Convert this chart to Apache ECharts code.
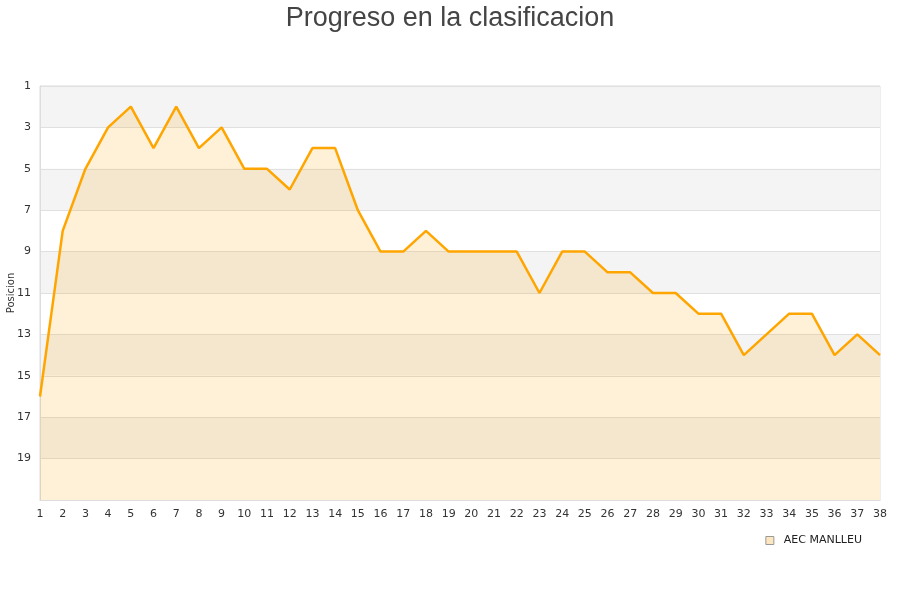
<!DOCTYPE html>
<html><head><meta charset="utf-8">
<script src="https://cdn.jsdelivr.net/npm/echarts@6/dist/echarts.min.js"></script>
<style>html,body{margin:0;padding:0;background:#fff}#c{width:900px;height:600px}</style>
</head><body><div id="c"></div>
<script>
var jornadas = [];
for (var i = 1; i <= 38; i++) jornadas.push(String(i));
var posiciones = [16,8,5,3,2,4,2,4,3,5,5,6,4,4,7,9,9,8,9,9,9,9,11,9,9,10,10,11,11,12,12,14,13,12,12,14,13,14];
var serieNombre = 'AEC MANLLEU';
var chart = echarts.init(document.getElementById('c'));
chart.setOption({
  animation: false,
  title: {text: 'Progreso en la clasificacion', left: 'center', top: 0,
    textStyle: {fontSize: 27, fontWeight: 'normal', color: '#444', fontFamily: 'Liberation Sans'}},
  grid: {left: 40, right: 20, top: 86, bottom: 100, containLabel: false, outerBoundsMode: 'none',
    show: true, borderColor: '#ddd', borderWidth: 1, backgroundColor: 'transparent'},
  legend: {data: [{name: serieNombre, icon: 'rect', itemStyle: {color: '#fde6c0', borderColor: '#999', borderWidth: 1}}],
    right: 33, top: 530, itemWidth: 8, itemHeight: 8, itemGap: 9,
    textStyle: {fontSize: 11, color: '#222', fontFamily: 'DejaVu Sans', padding: [0, 0, 0, 5]}},
  xAxis: {type: 'category', data: jornadas, boundaryGap: false,
    axisLine: {show: true, lineStyle: {color: '#ddd'}}, axisTick: {show: false},
    axisLabel: {interval: 0, color: '#333', fontSize: 11, margin: 9, fontFamily: 'DejaVu Sans'},
    splitLine: {show: false}},
  yAxis: {type: 'value', inverse: true, min: 1, max: 21, interval: 2,
    name: 'Posicion', nameLocation: 'middle', nameGap: 24, nameRotate: 90, nameMoveOverlap: false,
    nameTextStyle: {fontSize: 10, color: '#333', fontFamily: 'DejaVu Sans'},
    axisLine: {show: true, lineStyle: {color: '#ddd'}}, axisTick: {show: false},
    axisLabel: {color: '#333', fontSize: 11, margin: 9, fontFamily: 'DejaVu Sans',
      formatter: function (v) { return v === 21 ? '' : String(v); }},
    splitLine: {show: true, lineStyle: {color: '#e0e0e0'}},
    splitArea: {show: true, areaStyle: {color: ['#f4f4f4', '#ffffff']}}},
  series: [{
    name: serieNombre, type: 'line', data: posiciones, symbol: 'none',
    lineStyle: {color: '#ffa500', width: 2.5},
    itemStyle: {color: '#ffa500'},
    areaStyle: {color: 'rgba(250,165,0,0.22)', origin: 'end'}
  }]
});
</script></body></html>
